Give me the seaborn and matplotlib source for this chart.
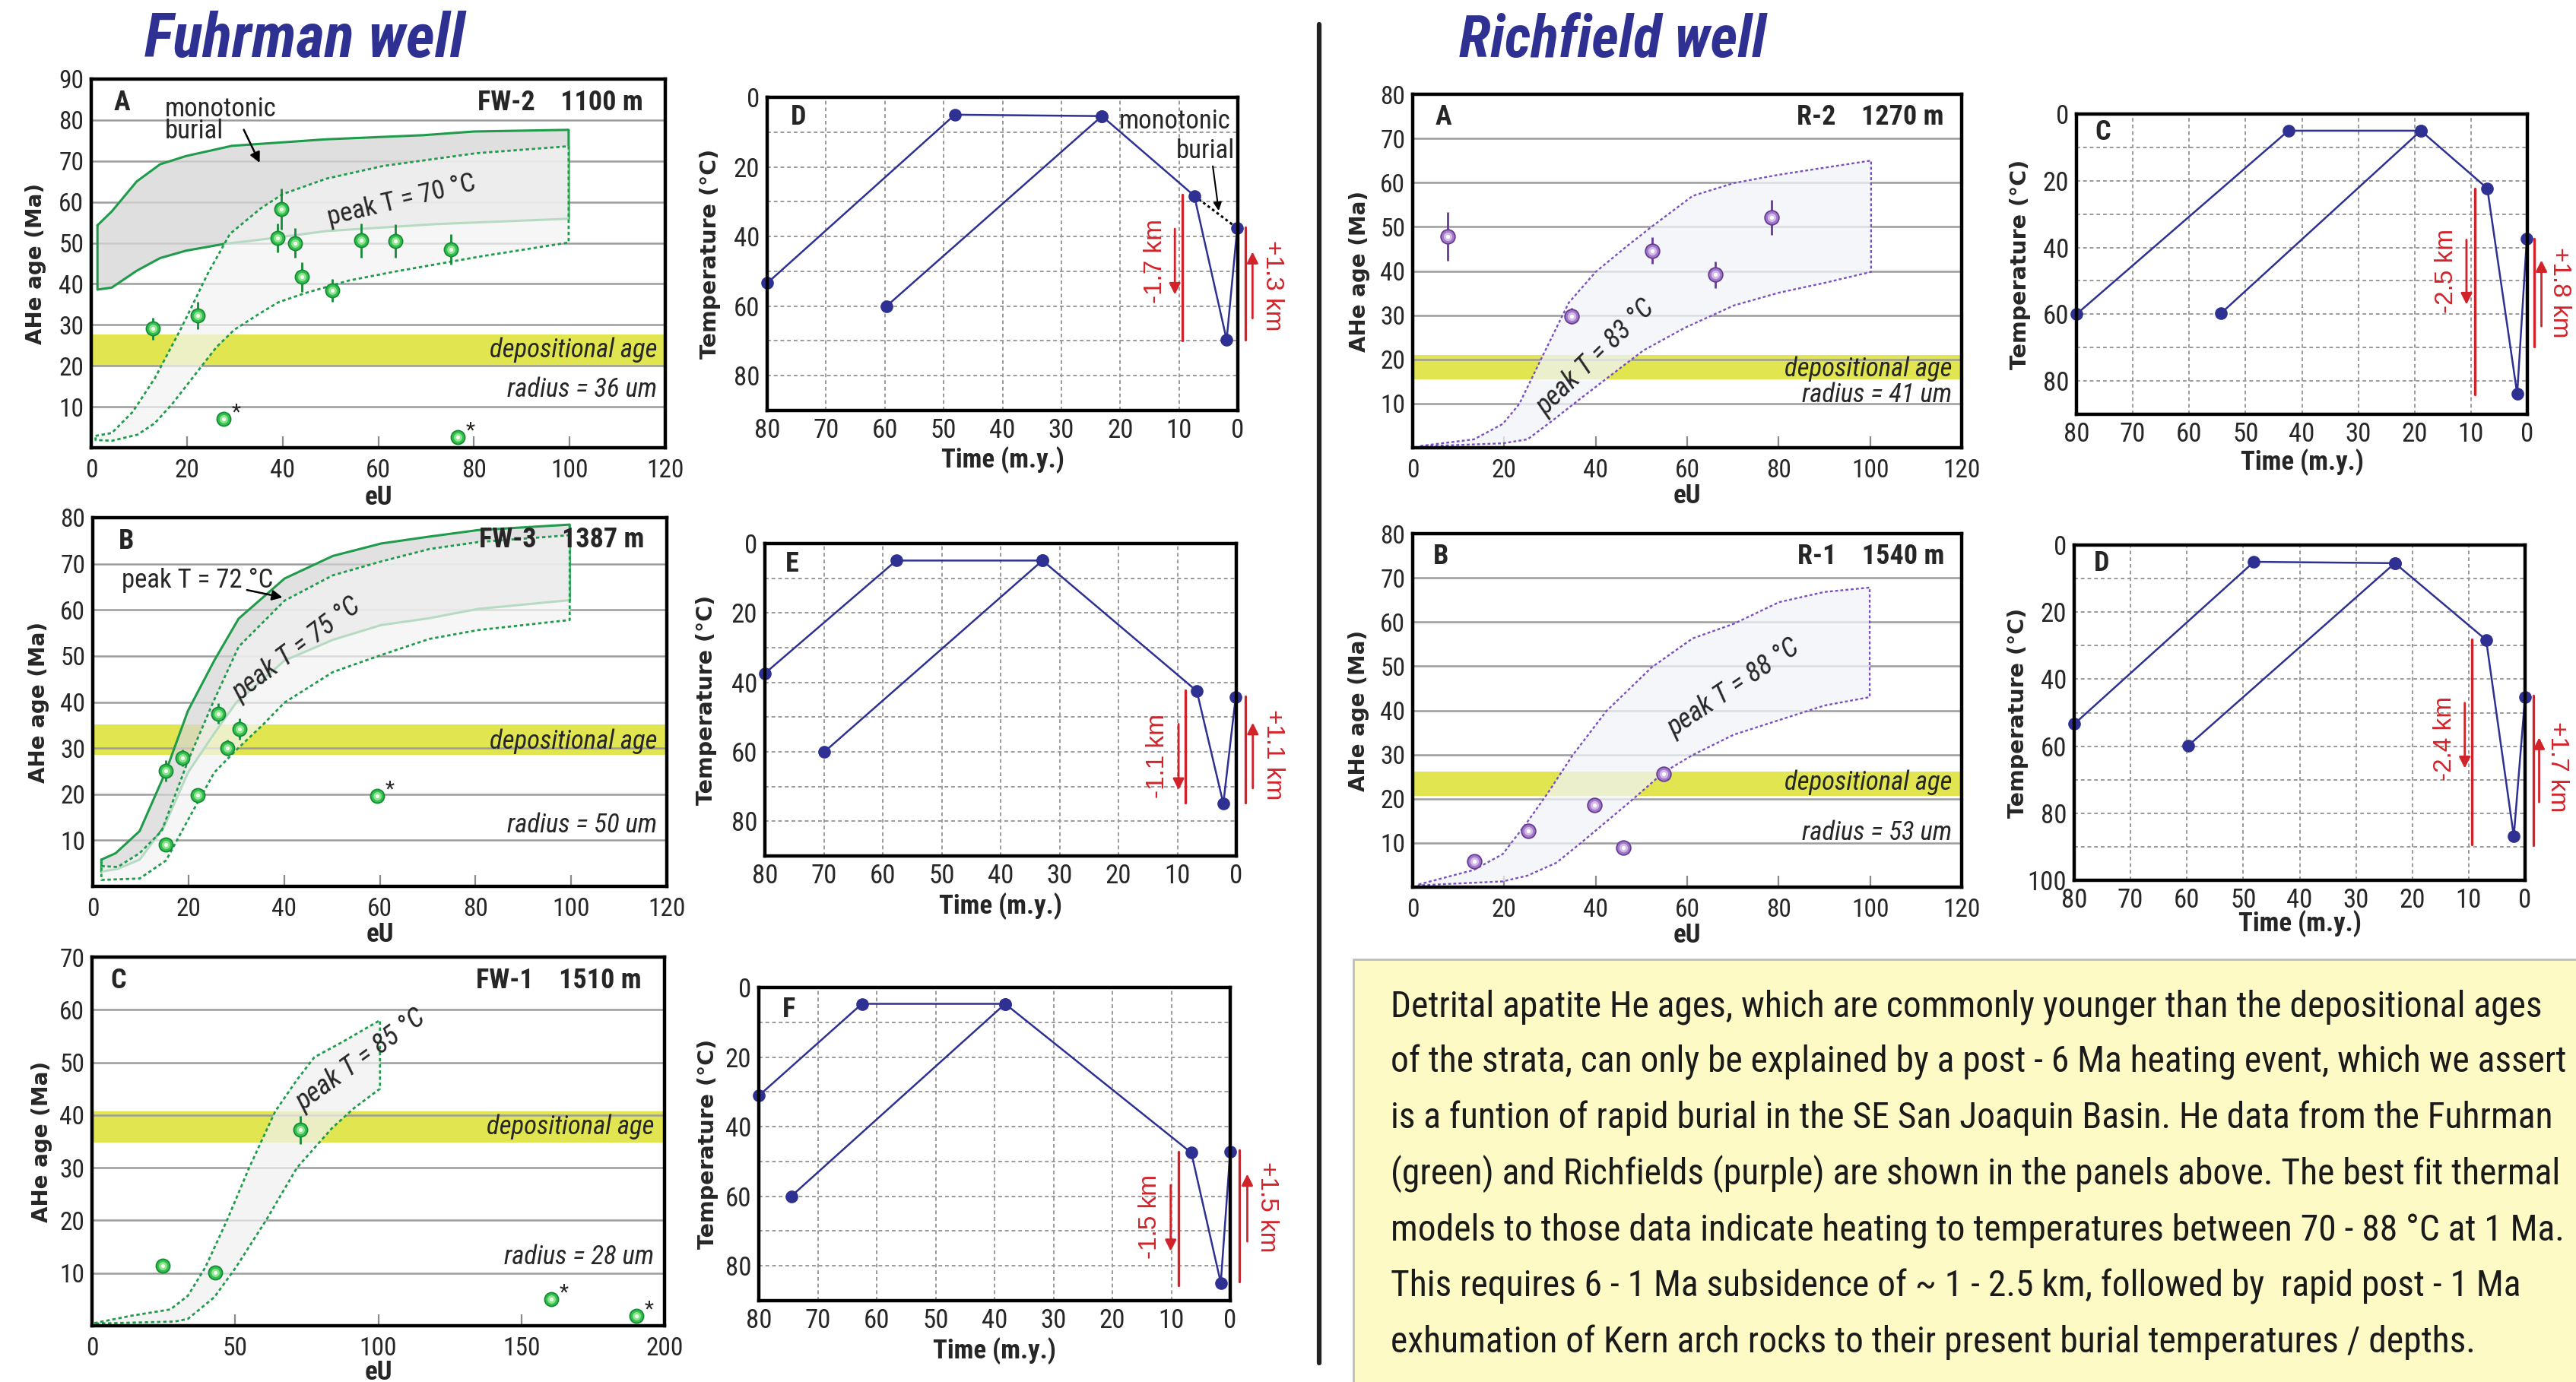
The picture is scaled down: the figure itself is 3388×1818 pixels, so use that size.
import numpy as np
import matplotlib
matplotlib.use("Agg")
import matplotlib.pyplot as plt
from matplotlib import font_manager as fm
from matplotlib.lines import Line2D
from matplotlib.patches import Rectangle
from matplotlib.ticker import MultipleLocator
import seaborn as sns

sns.set_style("white")

# pick a condensed sans family if one is installed
_names = sorted({f.name for f in fm.fontManager.ttflist})
_pref = ["Liberation Sans Narrow", "Noto Sans Condensed", "Roboto Condensed",
         "Open Sans Condensed", "DejaVu Sans Condensed", "Noto Sans SemiCondensed"]
COND = next((n for n in _pref if n in _names), None)
if COND is None:
    COND = next((n for n in _names if ("Narrow" in n or "Condensed" in n) and "Sans" in n
                 and "Mono" not in n and "CJK" not in n), "Liberation Sans")
_pref_box = ["Noto Sans ExtraCondensed", "Noto Sans Condensed", "Roboto Condensed",
             "Open Sans Condensed", "Liberation Sans Narrow"]
BOXF = next((n for n in _pref_box if n in _names), COND)

FAM = [COND, "Liberation Sans", "DejaVu Sans"]
plt.rcParams["font.family"] = FAM
plt.rcParams["axes.unicode_minus"] = False

W, H = 3388, 1818

# ------------------------------------------------------------------ data
# Fuhrman FW-2 (panel A)
fw2_eu = [12.9, 22.2, 39.8, 38.9, 42.6, 44.0, 50.4, 56.5, 63.6, 75.2]
fw2_age = [29.1, 32.3, 58.2, 51.2, 50.0, 41.7, 38.4, 50.6, 50.4, 48.5]
fw2_err = [2.7, 3.4, 5.0, 3.6, 3.6, 3.6, 2.8, 4.2, 4.1, 3.7]
fw2_out_eu = [27.6, 76.6]
fw2_out_age = [7.0, 2.6]
fw2_band = [20.1, 27.6]
fw2_mono_up_x = [1.3, 4.3, 9.5, 14.4, 19.8, 29.4, 49.2, 69.4, 80.0, 99.8]
fw2_mono_up_y = [54.3, 57.7, 65.0, 69.2, 71.2, 73.7, 75.3, 76.3, 77.2, 77.6]
fw2_mono_lo_x = [1.3, 4.3, 9.5, 14.4, 19.8, 28.0, 35.4, 49.2, 72.2, 99.8]
fw2_mono_lo_y = [38.6, 39.1, 43.2, 46.3, 48.1, 49.8, 50.8, 52.9, 54.6, 55.9]
fw2_env_up_x = [0.9, 4.3, 8.7, 13.3, 18.9, 24.4, 29.0, 35.4, 40.0, 49.2, 61.1, 80.5, 99.8]
fw2_env_up_y = [2.9, 3.6, 8.8, 17.0, 29.4, 42.6, 52.2, 58.4, 61.9, 65.7, 68.8, 71.9, 73.6]
fw2_env_lo_x = [0.9, 4.3, 9.7, 13.3, 17.0, 21.6, 26.2, 29.9, 35.4, 39.1, 44.6, 53.8, 63.0, 72.2, 81.4, 99.8]
fw2_env_lo_y = [1.9, 1.7, 3.2, 6.0, 10.8, 17.7, 24.6, 28.8, 32.9, 35.5, 37.7, 40.8, 42.9, 44.8, 46.7, 50.1]

# Fuhrman FW-3 (panel B)
fw3_eu = [15.3, 18.7, 26.3, 30.6, 28.1, 21.9, 15.3]
fw3_age = [25.0, 27.9, 37.5, 34.2, 30.1, 19.8, 9.1]
fw3_err = [2.3, 1.8, 2.2, 2.3, 1.8, 0.0, 0.0]
fw3_out_eu = [59.5]
fw3_out_age = [19.6]
fw3_band = [28.5, 35.1]
fw3_mono_up_x = [1.8, 4.8, 9.8, 15.3, 19.9, 25.4, 30.5, 40.1, 50.2, 60.3, 70.4, 80.5, 99.7]
fw3_mono_up_y = [5.8, 7.2, 12.0, 25.0, 38.1, 49.0, 58.1, 66.8, 71.7, 74.4, 75.9, 77.3, 78.5]
fw3_mono_lo_x = [1.8, 5.2, 9.8, 14.9, 19.9, 25.4, 30.0, 40.1, 50.2, 60.3, 70.4, 80.5, 99.7]
fw3_mono_lo_y = [3.2, 3.8, 5.8, 12.9, 24.7, 33.2, 39.9, 49.0, 53.5, 56.7, 58.2, 60.2, 62.1]
fw3_env_up_x = [1.8, 5.2, 9.8, 14.4, 19.9, 25.4, 30.5, 40.1, 50.2, 60.3, 70.4, 80.5, 99.7]
fw3_env_up_y = [4.4, 4.2, 7.2, 12.0, 27.2, 40.5, 52.0, 62.0, 67.5, 70.5, 73.2, 74.7, 76.2]
fw3_env_lo_x = [1.8, 9.8, 15.3, 19.9, 25.4, 30.0, 35.5, 40.1, 50.2, 60.3, 70.4, 80.5, 99.7]
fw3_env_lo_y = [1.4, 1.7, 5.6, 14.4, 24.7, 29.6, 35.0, 39.9, 46.5, 50.2, 53.7, 55.6, 57.8]

# Fuhrman FW-1 (panel C)
fw1_eu = [24.8, 43.1, 72.9]
fw1_age = [11.4, 10.1, 37.2]
fw1_err = [0.0, 0.0, 2.7]
fw1_out_eu = [160.5, 190.1]
fw1_out_age = [5.0, 1.9]
fw1_band = [34.8, 40.7]
fw1_env_up_x = [0.8, 13.7, 27.4, 33.5, 39.6, 47.3, 54.9, 64.0, 71.6, 77.7, 86.9, 100.6]
fw1_env_up_y = [0.5, 1.9, 3.1, 5.7, 11.1, 20.2, 30.0, 40.7, 46.7, 51.0, 53.7, 58.0]
fw1_env_lo_x = [0.8, 29.0, 33.5, 42.7, 50.3, 61.0, 71.6, 83.8, 91.5, 100.6]
fw1_env_lo_y = [0.4, 0.8, 1.3, 5.4, 11.1, 20.2, 30.0, 37.5, 41.3, 45.0]

# Richfield R-2 (panel A)
r2_eu = [7.6, 34.8, 52.4, 66.1, 78.5]
r2_age = [47.9, 29.8, 44.6, 39.2, 52.1]
r2_err = [5.5, 1.8, 3.0, 3.0, 4.0]
r2_band = [15.5, 21.0]
r2_env_up_x = [1.7, 7.1, 13.4, 19.7, 23.3, 28.7, 34.1, 40.0, 46.8, 52.2, 61.2, 70.2, 80.1, 100.2]
r2_env_up_y = [0.4, 1.1, 1.9, 5.4, 9.9, 21.4, 32.8, 39.8, 45.6, 50.0, 57.0, 59.9, 61.8, 65.0]
r2_env_lo_x = [1.7, 19.7, 25.1, 30.5, 35.9, 42.3, 50.4, 59.4, 70.2, 80.1, 90.0, 100.2]
r2_env_lo_y = [0.3, 1.0, 1.9, 6.1, 10.5, 15.6, 22.0, 27.1, 32.2, 35.1, 37.3, 39.8]

# Richfield R-1 (panel B)
r1_eu = [13.4, 25.3, 39.7, 46.1, 54.9]
r1_age = [5.9, 12.7, 18.6, 9.0, 25.6]
r1_err = [0.0, 0.0, 0.0, 0.0, 0.0]
r1_band = [20.7, 26.2]
r1_env_up_x = [1.3, 13.4, 19.7, 25.1, 29.6, 35.0, 42.3, 52.2, 61.2, 70.2, 80.1, 90.0, 99.9]
r1_env_up_y = [0.6, 3.9, 7.5, 14.8, 21.4, 29.9, 39.8, 49.7, 56.3, 59.6, 64.5, 66.8, 67.8]
r1_env_lo_x = [1.3, 19.7, 25.1, 31.4, 37.7, 46.8, 54.9, 61.2, 70.2, 80.1, 90.0, 99.9]
r1_env_lo_y = [0.4, 1.3, 2.6, 5.5, 10.8, 18.7, 26.0, 29.9, 34.5, 37.8, 41.1, 43.0]

# thermal histories (time Ma, temperature C)
d_p1_t = [80, 48.1, 23.1, 7.4, 1.9, 0.1]
d_p1_T = [53.4, 5.0, 5.4, 28.3, 69.7, 37.6]
d_p2_t = [59.7, 23.1]
d_p2_T = [60.0, 5.4]
d_mono_t = [7.4, 0.1]
d_mono_T = [28.3, 37.6]

e_p1_t = [80, 57.7, 32.9, 6.7, 2.2, 0.1]
e_p1_T = [37.4, 4.9, 4.9, 42.5, 74.9, 44.2]
e_p2_t = [69.9, 32.9]
e_p2_T = [60.0, 4.9]

f_p1_t = [80, 62.5, 38.2, 6.6, 1.6, 0.0]
f_p1_T = [31.1, 4.7, 4.7, 47.5, 84.9, 47.2]
f_p2_t = [74.5, 38.2]
f_p2_T = [60.0, 4.7]

rc_p1_t = [80, 42.4, 18.9, 7.1, 1.8, 0.1]
rc_p1_T = [60.0, 5.0, 5.0, 22.3, 83.9, 37.4]
rc_p2_t = [54.4, 18.9]
rc_p2_T = [59.8, 5.0]

rd_p1_t = [80, 48.1, 23.1, 6.9, 2.0, 0.0]
rd_p1_T = [53.4, 5.0, 5.4, 28.3, 86.9, 45.3]
rd_p2_t = [59.8, 23.1]
rd_p2_T = [59.9, 5.4]

subsidence_labels = {"D": "-1.7 km", "E": "-1.1 km", "F": "-1.5 km", "RC": "-2.5 km", "RD": "-2.4 km"}
exhumation_labels = {"D": "+1.3 km", "E": "+1.1 km", "F": "+1.5 km", "RC": "+1.8 km", "RD": "+1.7 km"}

text_lines = [
    "Detrital apatite He ages, which are commonly younger than the depositional ages",
    "of the strata, can only be explained by a post - 6 Ma heating event, which we assert",
    "is a funtion of rapid burial in the SE San Joaquin Basin. He data from the Fuhrman",
    "(green) and Richfields (purple) are shown in the panels above. The best fit thermal",
    "models to those data indicate heating to temperatures between 70 - 88 \u00b0C at 1 Ma.",
    "This requires 6 - 1 Ma subsidence of ~ 1 - 2.5 km, followed by  rapid post - 1 Ma",
    "exhumation of Kern arch rocks to their present burial temperatures / depths.",
]

# ------------------------------------------------------------------ styles
GREEN = "#34C04E"
GREEN_EDGE = "#178A38"
GREEN_MID = "#8FE58F"
GREEN_HI = "#F4FFF4"
GREEN_LINE = "#1F9B4B"
PURPLE = "#A37AC9"
PURPLE_EDGE = "#653B94"
PURPLE_MID = "#D5BBE8"
PURPLE_HI = "#FFFFFF"
PURPLE_LINE = "#7A4FBF"
BAND = "#E1E650"
NAVY = "#2E3192"
RED = "#D2232A"

TICK_FS = 24
fig = plt.figure(figsize=(W / 100, H / 100), dpi=100)
fig.patch.set_facecolor("white")
renderer = fig.canvas.get_renderer()


def fit_width(t, target):
    w = t.get_window_extent(renderer=renderer).width
    t.set_fontsize(t.get_fontsize() * target / w)


def rect(x0, y0, x1, y1):
    return [x0 / W, 1 - y1 / H, (x1 - x0) / W, (y1 - y0) / H]


def style_spines(ax):
    for sp in ax.spines.values():
        sp.set_visible(True)
        sp.set_linewidth(3.2)
        sp.set_color("black")
        sp.set_zorder(10)


def ahe_axes(r, xmax, ymax, xticks, ylx, xly):
    ax = fig.add_axes(rect(*r))
    ax.set_xlim(0, xmax)
    ax.set_ylim(0, ymax)
    ax.set_xticks(xticks)
    ax.set_yticks(np.arange(10, ymax + 1, 10))
    ax.grid(axis="y", color="#9c9c9c", lw=1.8)
    ax.grid(axis="x", visible=False)
    ax.set_axisbelow(True)
    ax.tick_params(axis="x", direction="in", length=10.5, width=1.6, color="#8a8a8a",
                   labelsize=TICK_FS, pad=10, bottom=True)
    ax.tick_params(axis="y", length=0, labelsize=TICK_FS, pad=7)
    style_spines(ax)
    ax.set_ylabel("AHe age (Ma)", family=["DejaVu Sans"], fontweight="bold", fontsize=20)
    ax.yaxis.set_label_coords(ylx, 0.5)
    ax.set_xlabel("eU", fontweight="bold", fontsize=25)
    ax.xaxis.set_label_coords(0.5, xly)
    return ax


def envelope(ax, ux, uy, lx, ly, fc, alpha, ec, ls, lw, z):
    px = np.r_[ux, lx[::-1]]
    py = np.r_[uy, ly[::-1]]
    ax.fill(px, py, facecolor=fc, alpha=alpha, edgecolor="none", zorder=z)
    ax.plot(np.r_[px, px[0]], np.r_[py, py[0]], color=ec, ls=ls, lw=lw, zorder=z + 0.1)


def spheres(ax, x, y, err, base, edge, mid, hi, s=170):
    ax.errorbar(x, y, yerr=err, fmt="none", ecolor=edge, elinewidth=2.0, capsize=0, zorder=4)
    sns.scatterplot(x=x, y=y, ax=ax, marker="o", s=s, color=base, edgecolor=edge,
                    linewidth=1.3, zorder=5, legend=False)
    ax.scatter(x, y, marker="o", s=s * 0.36, color=mid, linewidths=0, zorder=6)
    ax.scatter(x, y, marker="o", s=s * 0.08, color=hi, linewidths=0, zorder=7)


def stars(ax, x, y):
    for xi, yi in zip(x, y):
        ax.annotate("*", (xi, yi), xytext=(12, 6), textcoords="offset points",
                    fontsize=20, ha="center", va="center", zorder=8)


def corner_labels(ax, letter, lpos, well, rx, ry):
    ax.text(lpos[0], lpos[1], letter, transform=ax.transAxes, fontsize=26,
            fontweight="bold", ha="center", va="center", zorder=9)
    ax.text(rx, ry, well, transform=ax.transAxes, fontsize=26, fontweight="bold",
            ha="right", va="center", zorder=9)


def dep_text(ax, xr, yd, yr, radius):
    tr = ax.get_yaxis_transform()
    ax.text(xr, yd, "depositional age", transform=tr, style="italic", fontsize=25,
            ha="right", va="center", zorder=9)
    ax.text(xr, yr, radius, transform=tr, style="italic", fontsize=25,
            ha="right", va="center", zorder=9)


DOT = (0, (1.6, 1.3))

# ---------------------------------------------------------------- Fuhrman A
ax = ahe_axes((120, 104, 875, 589), 120, 90, [0, 20, 40, 60, 80, 100, 120], -0.078, -0.10)
ax.axhspan(*fw2_band, color=BAND, lw=0, zorder=0.2)
envelope(ax, fw2_mono_up_x, fw2_mono_up_y, fw2_mono_lo_x, fw2_mono_lo_y,
         "#D6D6D6", 0.78, GREEN_LINE, "-", 2.2, 1)
envelope(ax, fw2_env_up_x, fw2_env_up_y, fw2_env_lo_x, fw2_env_lo_y,
         "#F3F3F3", 0.72, GREEN_LINE, DOT, 2.0, 2)
spheres(ax, fw2_eu, fw2_age, fw2_err, GREEN, GREEN_EDGE, GREEN_MID, GREEN_HI)
spheres(ax, fw2_out_eu, fw2_out_age, [0, 0], GREEN, GREEN_EDGE, GREEN_MID, GREEN_HI)
stars(ax, fw2_out_eu, fw2_out_age)
corner_labels(ax, "A", (0.053, 0.936), "FW-2    1100 m", 0.961, 0.936)
dep_text(ax, 0.986, 23.9, 14.3, "radius = 36 um")
ax.text(15.4, 80.0, "monotonic\nburial", fontsize=25, ha="left", va="center",
        linespacing=0.85, zorder=9)
ax.annotate("", xy=(35.4, 69.1), xytext=(31.7, 78.1),
            arrowprops=dict(arrowstyle="-|>", color="black", lw=1.8, mutation_scale=20), zorder=9)
ax.text(64.8, 60.3, "peak T = 70 \u00b0C", fontsize=25, rotation=13.5, rotation_mode="anchor",
        ha="center", va="center", zorder=9)

# ---------------------------------------------------------------- Fuhrman B
ax = ahe_axes((122, 681, 877, 1166), 120, 80, [0, 20, 40, 60, 80, 100, 120], -0.075, -0.096)
ax.axhspan(*fw3_band, color=BAND, lw=0, zorder=0.2)
envelope(ax, fw3_mono_up_x, fw3_mono_up_y, fw3_mono_lo_x, fw3_mono_lo_y,
         "#D6D6D6", 0.72, GREEN_LINE, "-", 2.2, 1)
envelope(ax, fw3_env_up_x, fw3_env_up_y, fw3_env_lo_x, fw3_env_lo_y,
         "#F3F3F3", 0.72, GREEN_LINE, DOT, 2.0, 2)
spheres(ax, fw3_eu, fw3_age, fw3_err, GREEN, GREEN_EDGE, GREEN_MID, GREEN_HI)
spheres(ax, fw3_out_eu, fw3_out_age, [0], GREEN, GREEN_EDGE, GREEN_MID, GREEN_HI)
stars(ax, fw3_out_eu, fw3_out_age)
corner_labels(ax, "B", (0.059, 0.936), "FW-3    1387 m", 0.961, 0.94)
dep_text(ax, 0.983, 31.4, 13.3, "radius = 50 um")
ax.text(6.0, 66.4, "peak T = 72 \u00b0C", fontsize=25, ha="left", va="center", zorder=9)
ax.annotate("", xy=(40.1, 62.6), xytext=(31.8, 64.4),
            arrowprops=dict(arrowstyle="-|>", color="black", lw=1.8, mutation_scale=20), zorder=9)
ax.text(42.6, 51.4, "peak T = 75 \u00b0C", fontsize=26, style="italic", rotation=37,
        rotation_mode="anchor", ha="center", va="center", zorder=9)

# ---------------------------------------------------------------- Fuhrman C
ax = ahe_axes((121, 1259, 874, 1744), 200, 70, [0, 50, 100, 150, 200], -0.069, -0.093)
ax.axhspan(*fw1_band, color=BAND, lw=0, zorder=0.2)
envelope(ax, fw1_env_up_x, fw1_env_up_y, fw1_env_lo_x, fw1_env_lo_y,
         "#F0F0F0", 0.72, GREEN_LINE, DOT, 2.0, 2)
spheres(ax, fw1_eu, fw1_age, fw1_err, GREEN, GREEN_EDGE, GREEN_MID, GREEN_HI)
spheres(ax, fw1_out_eu, fw1_out_age, [0, 0], GREEN, GREEN_EDGE, GREEN_MID, GREEN_HI)
stars(ax, fw1_out_eu, fw1_out_age)
corner_labels(ax, "C", (0.046, 0.937), "FW-1    1510 m", 0.96, 0.937)
dep_text(ax, 0.982, 37.8, 13.1, "radius = 28 um")
ax.text(94.0, 50.5, "peak T = 85 \u00b0C", fontsize=26, style="italic", rotation=36,
        rotation_mode="anchor", ha="center", va="center", zorder=9)

# ---------------------------------------------------------------- Richfield A
ax = ahe_axes((1858, 124, 2580, 589), 120, 80, [0, 20, 40, 60, 80, 100, 120], -0.077, -0.10)
ax.axhspan(*r2_band, color=BAND, lw=0, zorder=0.2)
envelope(ax, r2_env_up_x, r2_env_up_y, r2_env_lo_x, r2_env_lo_y,
         "#F1F3F7", 0.75, PURPLE_LINE, DOT, 1.7, 2)
spheres(ax, r2_eu, r2_age, r2_err, PURPLE, PURPLE_EDGE, PURPLE_MID, PURPLE_HI, s=180)
corner_labels(ax, "A", (0.056, 0.935), "R-2    1270 m", 0.968, 0.935)
dep_text(ax, 0.982, 17.8, 12.0, "radius = 41 um")
ax.text(40.0, 20.4, "peak T = 83 \u00b0C", fontsize=26, style="italic", rotation=44,
        rotation_mode="anchor", ha="center", va="center", zorder=9)

# ---------------------------------------------------------------- Richfield B
ax = ahe_axes((1858, 702, 2580, 1167), 120, 80, [0, 20, 40, 60, 80, 100, 120], -0.079, -0.10)
ax.axhspan(*r1_band, color=BAND, lw=0, zorder=0.2)
envelope(ax, r1_env_up_x, r1_env_up_y, r1_env_lo_x, r1_env_lo_y,
         "#F1F3F7", 0.75, PURPLE_LINE, DOT, 1.7, 2)
spheres(ax, r1_eu, r1_age, r1_err, PURPLE, PURPLE_EDGE, PURPLE_MID, PURPLE_HI, s=180)
corner_labels(ax, "B", (0.052, 0.936), "R-1    1540 m", 0.968, 0.936)
dep_text(ax, 0.982, 23.7, 12.3, "radius = 53 um")
ax.text(70.2, 45.1, "peak T = 88 \u00b0C", fontsize=26, style="italic", rotation=34,
        rotation_mode="anchor", ha="center", va="center", zorder=9)


# ---------------------------------------------------------------- thermal panels
def temp_axes(r, ymax, yticks, ylx, xly):
    ax = fig.add_axes(rect(*r))
    ax.set_xlim(80, 0)
    ax.set_ylim(ymax, 0)
    ax.set_xticks(np.arange(0, 81, 10))
    ax.set_yticks(yticks)
    ax.yaxis.set_minor_locator(MultipleLocator(10))
    ax.grid(which="both", color="#9a9a9a", lw=1.4, ls=(0, (2.5, 2)))
    ax.set_axisbelow(True)
    ax.tick_params(which="both", length=0, labelsize=TICK_FS + 1, pad=7)
    style_spines(ax)
    ax.set_ylabel("Temperature (\u00b0C)", family=["DejaVu Sans"], fontweight="bold", fontsize=20.5)
    ax.yaxis.set_label_coords(ylx, 0.5)
    ax.set_xlabel("Time (m.y.)", fontweight="bold", fontsize=25)
    ax.xaxis.set_label_coords(0.5, xly)
    return ax


def paths(ax, p1t, p1T, p2t, p2T):
    for t, T in ((p1t, p1T), (p2t, p2T)):
        sns.lineplot(x=t, y=T, ax=ax, sort=False, estimator=None, color=NAVY, lw=1.8,
                     marker="o", markersize=12, markeredgewidth=0, clip_on=False, zorder=5)


def red_marks(ax, key, down, up):
    # down / up: (long line x, y0, y1, arrow x, tail, tip, text x, text y)
    for spec, lab, rot in ((down, subsidence_labels[key], 90), (up, exhumation_labels[key], 270)):
        lx, ly0, ly1, ax_, tail, tip, tx, ty = spec
        ax.plot([lx, lx], [ly0, ly1], color=RED, lw=2.4, clip_on=False, zorder=6)
        ax.annotate("", xy=(ax_, tip), xytext=(ax_, tail), annotation_clip=False,
                    arrowprops=dict(arrowstyle="-|>", color=RED, lw=2.0, mutation_scale=22,
                                    shrinkA=0, shrinkB=0), zorder=6)
        ax.text(tx, ty, lab, color=RED, fontsize=24, family=["Liberation Sans", "DejaVu Sans"],
                rotation=rot, ha="center", va="center", clip_on=False, zorder=6)


def panel_letter(ax, letter, x, y):
    ax.text(x, y, letter, transform=ax.transAxes, fontsize=26, fontweight="bold",
            ha="center", va="center", zorder=9)


# D
ax = temp_axes((1009, 128, 1628, 540), 90, [0, 20, 40, 60, 80], -0.099, -0.114)
paths(ax, d_p1_t, d_p1_T, d_p2_t, d_p2_T)
ax.plot(d_mono_t, d_mono_T, color="black", ls=(0, (1.2, 1.2)), lw=2.2, zorder=4)
ax.text(1.2, 6.9, "monotonic", fontsize=25, ha="right", va="center", zorder=9)
ax.text(0.5, 15.3, "burial", fontsize=25, ha="right", va="center", zorder=9)
ax.annotate("", xy=(3.2, 33.2), xytext=(4.3, 19.2),
            arrowprops=dict(arrowstyle="-|>", color="black", lw=1.5, mutation_scale=16), zorder=9)
panel_letter(ax, "D", 0.066, 0.938)
red_marks(ax, "D", (9.45, 28, 70, 10.7, 37.8, 56.7, 14.0, 47.1),
          (-1.3, 37.4, 69.7, -2.5, 63.5, 44.4, -5.9, 54.1))

# E
ax = temp_axes((1006, 715, 1626, 1126), 90, [0, 20, 40, 60, 80], -0.101, -0.117)
paths(ax, e_p1_t, e_p1_T, e_p2_t, e_p2_T)
panel_letter(ax, "E", 0.058, 0.935)
red_marks(ax, "E", (8.6, 42.3, 74.6, 9.8, 52.0, 71.0, 13.4, 61.3),
          (-1.5, 44.0, 74.6, -2.8, 70.5, 51.6, -6.2, 60.9))

# F
ax = temp_axes((998, 1299, 1618, 1711), 90, [0, 20, 40, 60, 80], -0.086, -0.116)
paths(ax, f_p1_t, f_p1_T, f_p2_t, f_p2_T)
panel_letter(ax, "F", 0.063, 0.929)
red_marks(ax, "F", (8.8, 47.2, 85.7, 10.1, 56.8, 75.8, 13.6, 65.9),
          (-1.55, 46.8, 84.5, -2.9, 73.0, 53.6, -6.3, 63.1))

# Richfield C
ax = temp_axes((2731, 150, 3324, 545), 90, [0, 20, 40, 60, 80], -0.102, -0.114)
paths(ax, rc_p1_t, rc_p1_T, rc_p2_t, rc_p2_T)
panel_letter(ax, "C", 0.059, 0.938)
red_marks(ax, "RC", (9.3, 22.3, 84.1, 10.8, 37.7, 57.1, 14.4, 47.0),
          (-1.15, 37.3, 69.7, -2.5, 63.6, 43.8, -5.8, 53.5))

# Richfield D
ax = temp_axes((2728, 717, 3321, 1158), 100, [0, 20, 40, 60, 80, 100], -0.102, -0.09)
paths(ax, rd_p1_t, rd_p1_T, rd_p2_t, rd_p2_T)
panel_letter(ax, "D", 0.061, 0.945)
red_marks(ax, "RD", (9.5, 28.1, 89.3, 10.7, 47.1, 66.6, 14.2, 57.8),
          (-1.5, 45.0, 89.5, -2.5, 76.7, 57.4, -5.8, 66.2))

# ---------------------------------------------------------------- figure furniture
fig.add_artist(Line2D([1735 / W, 1735 / W], [1 - 32 / H, 1 - 1793 / H], color="#222222", lw=4.5))

t1 = fig.text(190 / W, 1 - 75 / H, "Fuhrman well", color=NAVY, fontsize=40, fontweight="bold",
              style="italic", ha="left", va="baseline")
fit_width(t1, 421)
t2 = fig.text(1919 / W, 1 - 75 / H, "Richfield well", color=NAVY, fontsize=40, fontweight="bold",
              style="italic", ha="left", va="baseline")
fit_width(t2, 404)

fig.add_artist(Rectangle((1780 / W, -0.01), (W - 1780) / W + 0.01, (1818 - 1262) / H + 0.01,
                         transform=fig.transFigure, facecolor="#FEFAC6", edgecolor="#BDBDBD",
                         lw=2.0, zorder=0))
box_texts = []
for i, line in enumerate(text_lines):
    box_texts.append(fig.text(1829 / W, 1 - (1337 + i * 73.6) / H, line, fontsize=30,
                              family=[BOXF, "Liberation Sans", "DejaVu Sans"],
                              color="#1a1a1a", ha="left", va="baseline"))
w5 = box_texts[4].get_window_extent(renderer=renderer).width
scale = 1545 / w5
for t in box_texts:
    t.set_fontsize(30 * scale)

fig.savefig("out.png", dpi=100)
